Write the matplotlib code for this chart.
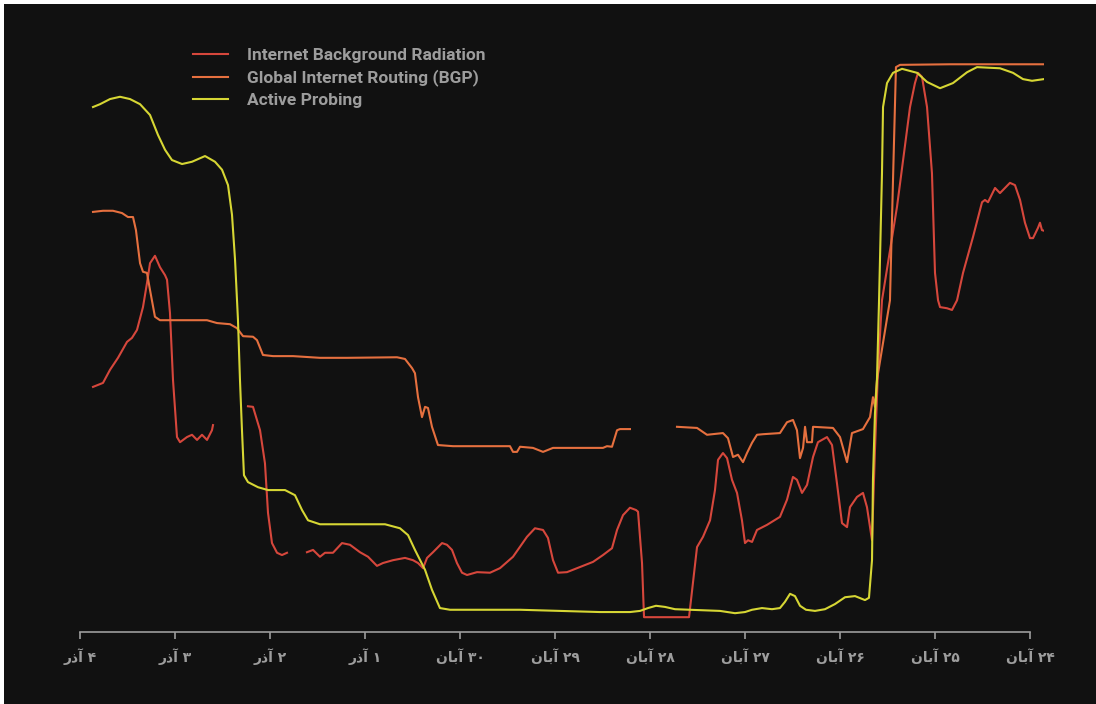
import numpy as np
import matplotlib.pyplot as plt
from matplotlib.patches import Rectangle

# x = days after 24 Aban (0) up to 4 Azar (10); axis runs right-to-left
# y = normalised signal level (0-100)

ibr_day = [9.863, 9.758, 9.684, 9.6, 9.505, 9.453, 9.4, 9.337, 9.295, 9.263, 9.211, 9.158, 9.105,
           9.084, 9.053, 9.021, 8.979, 8.947, 8.874, 8.821, 8.768, 8.716, 8.663, 8.611, 8.6, 8.4,
           8.232, 8.179, 8.105, 8.053, 8.021, 7.979, 7.926, 7.874, 7.821, 7.7,
           7.611, 7.547, 7.474, 7.421, 7.337, 7.242, 7.158, 7.053, 6.968, 6.874, 6.811, 6.705,
           6.579, 6.495, 6.442, 6.389, 6.347, 6.284, 6.189, 6.137, 6.084, 6.032, 5.979, 5.926,
           5.821, 5.684, 5.579, 5.442, 5.295, 5.211, 5.126, 5.074, 5.021, 4.968, 4.874, 4.737,
           4.6, 4.495, 4.4, 4.347, 4.284, 4.211, 4.147, 4.126, 4.084, 4.063, 3.589, 3.505, 3.442,
           3.368, 3.316, 3.284, 3.232, 3.189, 3.137, 3.084, 3.032, 3.0, 2.968, 2.926, 2.874,
           2.768, 2.632, 2.558, 2.495, 2.453, 2.4, 2.347, 2.284, 2.232, 2.137, 2.084, 2.032,
           1.979, 1.926, 1.895, 1.821, 1.758, 1.716, 1.695, 1.663, 1.632, 1.6, 1.558, 1.4, 1.263,
           1.211, 1.179, 1.137, 1.084, 1.032, 1.0, 0.968, 0.947, 0.874, 0.821, 0.768, 0.705, 0.6,
           0.505, 0.474, 0.442, 0.368, 0.316, 0.211, 0.158, 0.105, 0.053, 0.0, -0.032, -0.084,
           -0.105, -0.126, -0.147]
ibr_val = [43.0, 43.7, 46.0, 48.1, 50.9, 51.6, 53.0, 57.0, 61.2, 64.7, 66.0, 64.0, 62.6,
           61.8, 56.0, 44.2, 34.2, 33.3, 34.2, 34.6, 33.7, 34.6, 33.7, 35.4, 36.3, np.nan,
           39.6, 39.5, 35.4, 29.6, 20.9, 15.6, 13.9, 13.5, 13.9, np.nan,
           14.0, 14.4, 13.2, 13.9, 13.9, 15.6, 15.3, 14.0, 13.2, 11.6, 12.1, 12.6,
           13.0, 12.6, 12.1, 11.2, 13.0, 14.0, 15.6, 15.3, 14.4, 12.1, 10.4, 10.0,
           10.5, 10.4, 11.2, 13.2, 16.7, 18.2, 17.9, 16.5, 12.6, 10.4, 10.5, 11.4,
           12.3, 13.5, 14.7, 17.9, 20.5, 21.8, 21.4, 21.1, 12.1, 2.6, 2.6, 14.9, 16.7,
           19.6, 24.9, 30.2, 31.4, 30.5, 26.7, 24.4, 19.6, 15.6, 16.1, 15.8, 17.9,
           18.8, 20.2, 23.2, 27.2, 26.7, 24.4, 25.8, 30.7, 33.3, 34.2, 32.8, 26.1,
           19.1, 18.4, 21.9, 23.7, 24.4, 21.9, 19.6, 16.1, 31.9, 46.0, 58.2, 74.6, 92.1,
           96.3, 98.1, 97.4, 92.1, 80.5, 63.0, 58.2, 57.0, 56.8, 56.5, 58.2, 63.0, 69.3,
           75.4, 75.8, 75.4, 77.9, 77.0, 78.8, 78.4, 75.8, 71.8, 69.1, 69.1, 70.9,
           71.8, 70.5, 70.4]

bgp_day = [9.863, 9.758, 9.653, 9.558, 9.495, 9.442, 9.411, 9.389, 9.368, 9.337, 9.295, 9.263,
           9.211, 9.158, 8.979, 8.663, 8.558, 8.421, 8.347, 8.284, 8.179, 8.137, 8.074, 7.968,
           7.758, 7.474, 7.189, 6.663, 6.579, 6.505, 6.474, 6.442, 6.4, 6.368, 6.337, 6.295,
           6.232, 6.074, 5.474, 5.442, 5.4, 5.368, 5.232, 5.126, 5.021, 4.495, 4.453, 4.4,
           4.347, 4.316, 4.211, 4.0,
           3.716, 3.505, 3.4, 3.232, 3.179, 3.126, 3.074, 3.021, 2.979, 2.926, 2.874, 2.811,
           2.632, 2.558, 2.495, 2.453, 2.421, 2.389, 2.368, 2.347, 2.295, 2.284, 2.074, 2.0,
           1.926, 1.874, 1.758, 1.684, 1.653, 1.632, 1.611, 1.474, 1.442, 1.411, 1.368, 0.842,
           -0.147]
bgp_val = [73.7, 73.9, 73.9, 73.5, 72.8, 72.8, 70.5, 67.5, 64.7, 63.2, 63.0, 60.0,
           55.3, 54.7, 54.7, 54.7, 54.2, 54.0, 53.3, 51.9, 51.8, 51.2, 48.6, 48.4,
           48.4, 48.1, 48.1, 48.2, 47.9, 46.3, 45.4, 41.2, 37.7, 39.5, 39.3, 36.0,
           32.8, 32.6, 32.6, 31.6, 31.6, 32.5, 32.3, 31.6, 32.3, 32.3, 32.6, 32.5,
           35.4, 35.6, 35.6, np.nan,
           36.0, 35.8, 34.6, 34.9, 34.0, 30.7, 31.1, 29.8, 31.4, 33.2, 34.6, 34.7,
           34.9, 36.8, 37.2, 35.4, 30.5, 32.3, 36.0, 33.3, 33.3, 36.0, 35.8, 34.2,
           29.8, 34.9, 35.6, 37.7, 41.2, 39.5, 44.2, 58.2, 79.3, 99.1, 99.5, 99.6,
           99.6]

ap_day = [9.863, 9.789, 9.684, 9.579, 9.474, 9.368, 9.263, 9.179, 9.105, 9.032, 8.926, 8.821,
          8.684, 8.579, 8.505, 8.442, 8.4, 8.368, 8.337, 8.316, 8.295, 8.274, 8.232, 8.126,
          8.021, 7.842, 7.737, 7.663, 7.6, 7.474, 7.263, 7.053, 6.789, 6.632, 6.547, 6.474,
          6.368, 6.295, 6.211, 6.105, 5.789, 5.368, 4.947, 4.526, 4.211, 4.105, 4.021, 3.937,
          3.842, 3.737, 3.579, 3.263, 3.105, 3.0, 2.926, 2.821, 2.716, 2.632, 2.579, 2.526,
          2.474, 2.421, 2.358, 2.263, 2.158, 2.053, 1.947, 1.842, 1.737, 1.695, 1.663, 1.653,
          1.632, 1.611, 1.589, 1.558, 1.547, 1.505, 1.442, 1.347, 1.189, 1.084, 0.947, 0.811,
          0.663, 0.558, 0.316, 0.179, 0.074, -0.021, -0.147]
ap_val = [92.1, 92.6, 93.5, 93.9, 93.5, 92.6, 90.7, 87.2, 84.6, 82.8, 82.1, 82.5,
          83.5, 82.5, 81.1, 78.4, 73.2, 65.3, 54.7, 44.2, 35.4, 27.5, 26.3, 25.4,
          24.9, 24.9, 24.0, 21.4, 19.6, 18.9, 18.9, 18.9, 18.9, 18.2, 17.0, 14.4,
          10.9, 7.4, 4.2, 3.9, 3.9, 3.9, 3.7, 3.5, 3.5, 3.7, 4.2, 4.6,
          4.4, 4.0, 3.9, 3.7, 3.3, 3.5, 3.9, 4.2, 4.0, 4.2, 5.3, 6.7,
          6.3, 4.6, 3.9, 3.7, 4.0, 4.9, 6.1, 6.3, 5.6, 6.0, 12.6, 26.7,
          38.4, 44.2, 58.2, 80.5, 92.1, 96.3, 98.1, 98.8, 98.1, 96.5, 95.4, 96.3,
          98.2, 99.1, 98.9, 98.1, 97.0, 96.7, 97.0]

tick_pos = [10, 9, 8, 7, 6, 5, 4, 3, 2, 1, 0]
tick_labels = ['۴ آذر', '۳ آذر', '۲ آذر', '۱ آذر', '۳۰ آبان', '۲۹ آبان',
               '۲۸ آبان', '۲۷ آبان', '۲۶ آبان', '۲۵ آبان', '۲۴ آبان']

# matplotlib has no RTL shaping: month names in joined presentation forms, visual order
FORMS = {'آذر': '\ufead\ufeab\ufe81', 'آبان': '\ufee5\ufe8e\ufe91\ufe81'}


def rtl(label):
    num, month = label.split(' ')
    return FORMS[month] + ' ' + num


BG = '#111111'
GREY = '#9d9d9d'
C_IBR = '#d6473c'
C_BGP = '#e6703f'
C_AP = '#d6d634'

fig = plt.figure(figsize=(10.96, 7.04), dpi=100)
fig.patch.set_facecolor('white')
fig.add_artist(Rectangle((4 / 1096, 0), 1, 1 - 4 / 704, transform=fig.transFigure,
                         facecolor=BG, edgecolor='none', zorder=-10))

W, H = 1096, 704
ax = fig.add_axes([80 / W, 72 / H, 964.25 / W, 598.5 / H])
ax.set_facecolor(BG)

ax.plot(ibr_day, ibr_val, color=C_IBR, lw=1.5, label='Internet Background Radiation')
ax.plot(bgp_day, bgp_val, color=C_BGP, lw=1.5, label='Global Internet Routing (BGP)')
ax.plot(ap_day, ap_val, color=C_AP, lw=1.5, label='Active Probing')

ax.set_xlim(10, -0.15)
ax.set_ylim(0, 105)

for s in ['top', 'right', 'left']:
    ax.spines[s].set_visible(False)
ax.spines['bottom'].set_color(GREY)
ax.spines['bottom'].set_linewidth(1.2)
ax.spines['bottom'].set_bounds(0, 10)
ax.set_yticks([])
ax.set_xticks(tick_pos)
ax.set_xticklabels([rtl(t) for t in tick_labels], fontsize=10, fontweight='bold',
                   family=['DejaVu Sans'], color=GREY)
ax.tick_params(axis='x', length=5, width=1.2, color=GREY, pad=7)

leg = ax.legend(loc='upper left', bbox_to_anchor=(193 / W, 1 - 48 / H),
                bbox_transform=fig.transFigure, frameon=False, borderpad=0,
                borderaxespad=0, handlelength=2.0, handletextpad=1.1, labelspacing=0.36,
                prop={'family': ['Roboto', 'DejaVu Sans'], 'size': 12.5, 'weight': 'bold'})
for t in leg.get_texts():
    t.set_color(GREY)

fig.savefig('out.png', dpi=100, facecolor=fig.get_facecolor())
